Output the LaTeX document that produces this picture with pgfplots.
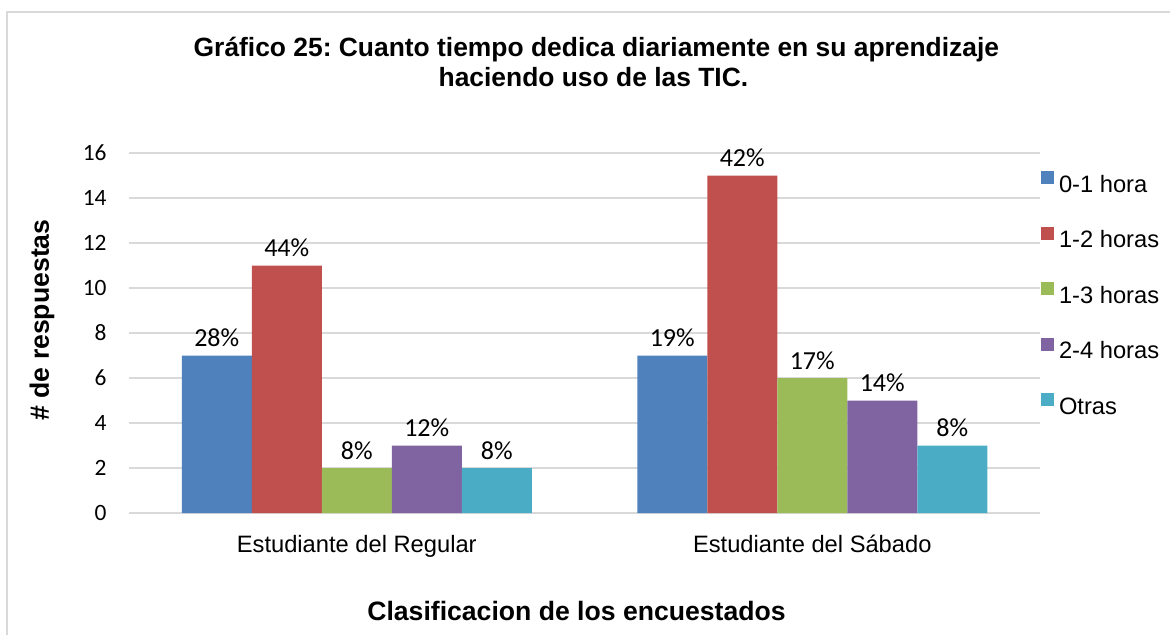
\documentclass[border=0pt]{standalone}
\usepackage{pgfplots}
\pgfplotsset{compat=1.18}
\usepackage{fontspec}
\setmainfont{Liberation Sans}
\newfontfamily\calibri{Carlito}
\definecolor{c1}{HTML}{4F81BD}
\definecolor{c2}{HTML}{C0504D}
\definecolor{c3}{HTML}{9BBB59}
\definecolor{c4}{HTML}{8064A2}
\definecolor{c5}{HTML}{4BACC6}
\definecolor{gridc}{HTML}{D9D9D9}
\frenchspacing
\begin{document}
\begin{tikzpicture}
\useasboundingbox (0pt,0pt) rectangle (585pt,-317pt);
\draw[gridc, line width=1pt] (3.5pt,-340pt) -- (3.5pt,-6pt) -- (600pt,-6pt);
\node[anchor=base, font=\fontsize{13.2}{16}\selectfont\bfseries] at (298.2pt,-28.4pt) {Gráfico 25: Cuanto tiempo dedica diariamente en su aprendizaje};
\node[anchor=base, font=\fontsize{13.2}{16}\selectfont\bfseries] at (296.7pt,-43.35pt) {haciendo uso de las TIC.};
\begin{axis}[
  at={(64.5pt,-256.5pt)}, anchor=south west,
  width=455.5pt, height=180pt, scale only axis,
  xmin=-0.5, xmax=1.5, ymin=0, ymax=16,
  ytick={0,2,...,16},
  xtick={0,1},
  xticklabels={Estudiante del Regular, Estudiante del Sábado},
  ybar, bar width=35pt,
  separate axis lines,
  axis x line*=bottom, axis y line*=left,
  x axis line style={draw=gridc, line width=1pt, -},
  y axis line style={draw=none},
  major tick length=0pt,
  ymajorgrids, grid style={draw=gridc, line width=1pt},
  /pgf/number format/assume math mode=true,
  yticklabel style={font=\calibri\fontsize{11.7}{14}\selectfont, anchor=east, inner sep=0pt, xshift=-11pt},
  xticklabel style={font=\fontsize{11.85}{14}\selectfont, anchor=base, inner sep=0pt, yshift=-19.75pt},
  nodes near coords={\pgfplotspointmeta},
  point meta=explicit symbolic,
  nodes near coords style={font=\calibri\fontsize{13}{15}\selectfont, anchor=base, inner sep=0pt, yshift=4.5pt},
  legend style={at={(1,1)}, anchor=north west, xshift=0.5pt, yshift=-9pt, draw=none, fill=none,
    inner sep=0pt, outer sep=0pt, row sep=14.75pt, column sep=2.5pt,
    font=\fontsize{11.85}{14}\selectfont,
    nodes={inner sep=0pt, text height=8.5pt, text depth=2.5pt}},
  legend cell align=left,
  legend image code/.code={\fill[#1] (0pt,1.05pt) rectangle (6.5pt,7.55pt);},
]
\addplot[fill=c1, draw=none, bar shift=-70pt] coordinates {(0,7) [28\%] (1,7) [19\%]};
\addplot[fill=c2, draw=none, bar shift=-35pt] coordinates {(0,11) [44\%] (1,15) [42\%]};
\addplot[fill=c3, draw=none, bar shift=0pt] coordinates {(0,2) [8\%] (1,6) [17\%]};
\addplot[fill=c4, draw=none, bar shift=35pt] coordinates {(0,3) [12\%] (1,5) [14\%]};
\addplot[fill=c5, draw=none, bar shift=70pt] coordinates {(0,2) [8\%] (1,3) [8\%]};
\legend{0-1 hora, 1-2 horas, 1-3 horas, 2-4 horas, Otras}
\end{axis}
\node[rotate=90, font=\fontsize{13.3}{16}\selectfont\bfseries] at (21pt,-160pt) {\# de respuestas};
\node[anchor=base, font=\fontsize{13.3}{16}\selectfont\bfseries] at (288.25pt,-310pt) {Clasificacion de los encuestados};
\end{tikzpicture}
\end{document}
